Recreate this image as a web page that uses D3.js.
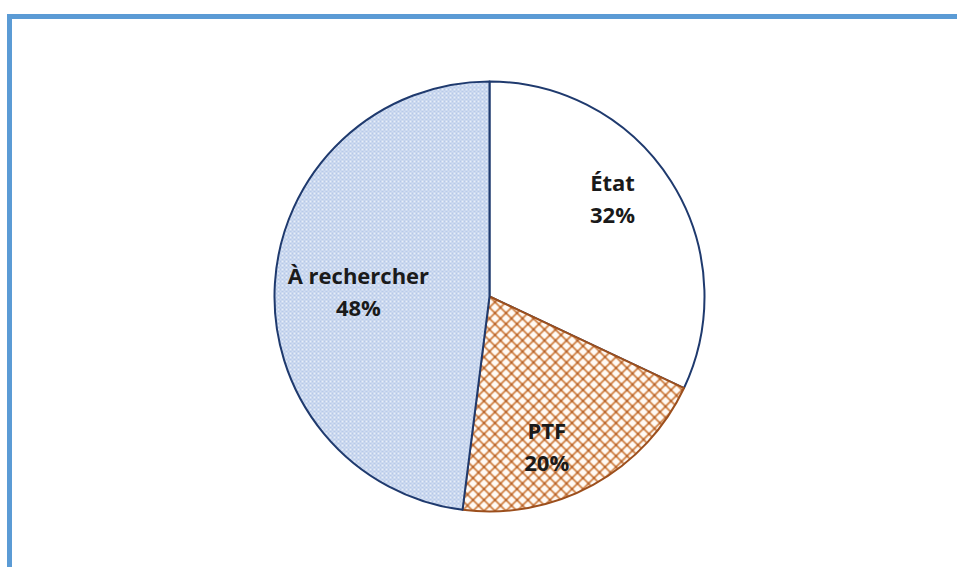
<!DOCTYPE html>
<html>
<head>
<meta charset="utf-8">
<script src="https://cdn.jsdelivr.net/npm/d3@7"></script>
<style>
  html, body { margin: 0; padding: 0; background: #fff; }
</style>
</head>
<body>
<div id="chart"></div>
<script>
// données du graphique
const categories = ["État", "PTF", "À rechercher"];
const shares = [32, 20, 48];

// style par part
const fills = ["#ffffff", "url(#pat-ptf)", "url(#pat-rech)"];
const strokes = ["#1f3a6e", "#9c4f1d", "#1f3a6e"];
// placement des étiquettes (facteur de rayon, décalage d'angle en degrés)
const labelRadius = [0.73, 0.75, 0.61];
const labelShift = [-6, 8, -2];

(function () {
    const width = 957, height = 567;
    const cx = 489.5, cy = 296.5, radius = 215;

    const svg = d3.select("#chart").append("svg")
        .attr("width", width)
        .attr("height", height)
        .style("font-family", "'Open Sans', 'Noto Sans', sans-serif");

    const defs = svg.append("defs");

    // motif losanges (PTF)
    const s = 11;
    const pPtf = defs.append("pattern")
        .attr("id", "pat-ptf")
        .attr("width", s).attr("height", s)
        .attr("patternUnits", "userSpaceOnUse");
    pPtf.append("rect").attr("width", s).attr("height", s).attr("fill", "#fffaf5");
    pPtf.append("path")
        .attr("d", `M0,0L${s},${s}M${s},0L0,${s}M-1,${s - 1}L1,${s + 1}M${s - 1},-1L${s + 1},1M-1,1L1,-1M${s - 1},${s + 1}L${s + 1},${s - 1}`)
        .attr("stroke", "#cd7a3a")
        .attr("stroke-width", 1.6)
        .attr("fill", "none");
    pPtf.append("circle").attr("cx", s / 2).attr("cy", s / 2).attr("r", 1.3).attr("fill", "#b5612a");
    pPtf.append("circle").attr("cx", 0).attr("cy", 0).attr("r", 1.3).attr("fill", "#b5612a");
    pPtf.append("circle").attr("cx", s).attr("cy", 0).attr("r", 1.3).attr("fill", "#b5612a");
    pPtf.append("circle").attr("cx", 0).attr("cy", s).attr("r", 1.3).attr("fill", "#b5612a");
    pPtf.append("circle").attr("cx", s).attr("cy", s).attr("r", 1.3).attr("fill", "#b5612a");

    // motif quadrillé fin (À rechercher)
    const pRech = defs.append("pattern")
        .attr("id", "pat-rech")
        .attr("width", 4).attr("height", 4)
        .attr("patternUnits", "userSpaceOnUse");
    pRech.append("rect").attr("width", 4).attr("height", 4).attr("fill", "#b7c9e8");
    pRech.append("rect").attr("x", 0).attr("y", 0).attr("width", 2).attr("height", 2).attr("fill", "#e8eef8");
    pRech.append("rect").attr("x", 2).attr("y", 2).attr("width", 2).attr("height", 2).attr("fill", "#d3def2");

    // cadre bleu (haut et gauche)
    svg.append("path")
        .attr("d", `M9.5,${height}L9.5,16.5L${width},16.5`)
        .attr("fill", "none")
        .attr("stroke", "#5b9bd5")
        .attr("stroke-width", 5);

    const pie = d3.pie().sort(null).value(d => d)(shares);

    const arc = d3.arc()
        .innerRadius(0)
        .outerRadius(radius);

    const g = svg.append("g").attr("transform", `translate(${cx},${cy})`);

    g.selectAll("path")
        .data(pie)
        .join("path")
        .attr("d", arc)
        .attr("fill", (d, i) => fills[i])
        .attr("stroke", (d, i) => strokes[i])
        .attr("stroke-width", 2)
        .attr("stroke-linejoin", "round");

    const label = g.selectAll("text")
        .data(pie)
        .join("text")
        .attr("text-anchor", "middle")
        .attr("font-weight", "bold")
        .attr("font-size", 22)
        .attr("fill", "#1a1a1a")
        .attr("transform", (d, i) => {
            const a = (d.startAngle + d.endAngle) / 2 + labelShift[i] * Math.PI / 180;
            const r = radius * labelRadius[i];
            return `translate(${r * Math.sin(a)},${-r * Math.cos(a)})`;
        });

    label.append("tspan")
        .attr("x", 0)
        .attr("dy", "-0.38em")
        .text((d, i) => categories[i]);
    label.append("tspan")
        .attr("x", 0)
        .attr("dy", "1.45em")
        .text(d => d.data + "%");
})();
</script>
</body>
</html>
